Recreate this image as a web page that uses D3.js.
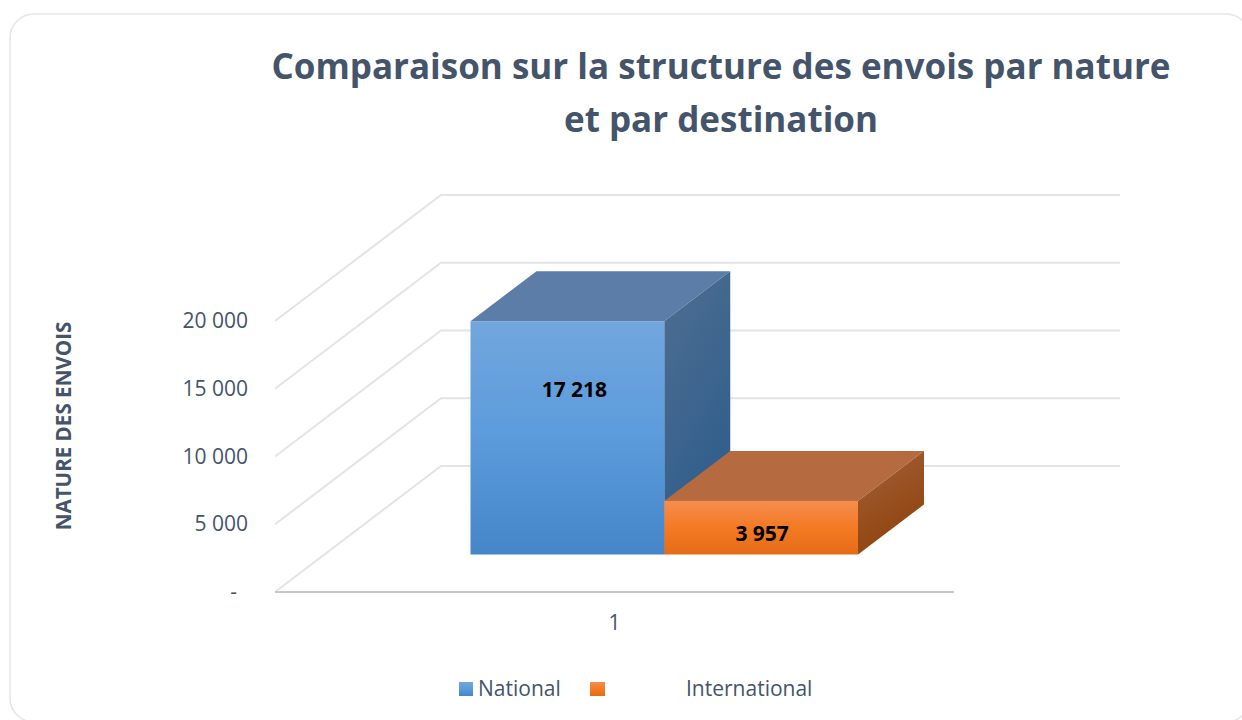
<!DOCTYPE html>
<html>
<head>
  <meta charset="utf-8">
  <title>Comparaison sur la structure des envois</title>
  <script src="https://d3js.org/d3.v7.min.js"></script>
  <style>
    html, body { margin: 0; padding: 0; background: #fff; overflow: hidden; }
    text { font-family: "Open Sans", sans-serif; fill: #44546a; }
  </style>
</head>
<body>
<svg width="1242" height="720"></svg>
<script>
  const seriesNames = ["National", "International"];
  const seriesValues = [17218, 3957];
  const valueLabels = ["17 218", "3 957"];
  const categories = ["1"];
  const yTicks = [0, 5000, 10000, 15000, 20000];
  const titleLines = ["Comparaison sur la structure des envois par nature", "et par destination"];
  const yTitle = "NATURE DES ENVOIS";

  const svg = d3.select("svg");

  // fake 3d: everything is drawn on the front plane, then shifted by depth
  const wall = { dx: 166, dy: -126 };
  const barOffset = { dx: 0, dy: -37.5 };
  const barDepth = { dx: 66, dy: -50 };

  const y = d3.scaleLinear().domain([0, 20000]).range([592, 321]);
  const xCat = d3.scaleBand().domain(categories).range([275, 954]);
  const xBar = d3.scaleBand().domain(seriesNames).range([470.5, 858]);

  const frontColors = [["#72a6dd", "#5b9bdc", "#4486c8"], ["#f68d50", "#f47a24", "#e56c17"]];
  const sideColors = [["#4f6e91", "#2e5d8c"], ["#a3603a", "#8f440d"]];
  const topColors = ["#5b7da8", "#b66a40"];

  const defs = svg.append("defs");
  seriesNames.forEach((s, i) => {
    const front = defs.append("linearGradient").attr("id", "front" + i)
            .attr("x1", 0).attr("y1", 0).attr("x2", 0).attr("y2", 1);
    frontColors[i].forEach((c, j) => front.append("stop").attr("offset", j / 2).attr("stop-color", c));
    const side = defs.append("linearGradient").attr("id", "side" + i)
            .attr("x1", 0).attr("y1", 0).attr("x2", 0.4).attr("y2", 1);
    sideColors[i].forEach((c, j) => side.append("stop").attr("offset", j).attr("stop-color", c));
  });

  // card
  svg.append("rect")
          .attr("x", 10).attr("y", 14).attr("width", 1240).attr("height", 708)
          .attr("rx", 24)
          .attr("fill", "#fff").attr("stroke", "#e3e6eb").attr("stroke-width", 1.5);

  // title
  svg.append("g").selectAll("text")
          .data(titleLines)
          .enter().append("text")
          .attr("x", 721)
          .attr("y", (d, i) => 79 + i * 53)
          .attr("text-anchor", "middle")
          .attr("font-size", 35)
          .attr("font-weight", 700)
          .text(d => d);

  // grid: diagonal on the side wall, then horizontal on the back wall
  const grid = svg.append("g");
  grid.selectAll("polyline")
          .data(yTicks)
          .enter().append("polyline")
          .attr("points", d => [
            [xCat.range()[0], y(d)],
            [xCat.range()[0] + wall.dx, y(d) + wall.dy],
            [1120, y(d) + wall.dy]
          ].join(" "))
          .attr("fill", "none")
          .attr("stroke", "#e2e4e8")
          .attr("stroke-width", 2);

  // floor front edge
  svg.append("line")
          .attr("x1", 275).attr("x2", 954)
          .attr("y1", y(0)).attr("y2", y(0))
          .attr("stroke", "#c6c9ce")
          .attr("stroke-width", 2);

  // bars
  const bars = svg.append("g").selectAll("g")
          .data(seriesNames.map((name, i) => ({ name, i, value: seriesValues[i], label: valueLabels[i] })))
          .enter().append("g");

  const x0 = d => xBar(d.name);
  const x1 = d => xBar(d.name) + xBar.bandwidth();
  const yTop = d => y(d.value) + barOffset.dy;
  const yBase = () => y(0) + barOffset.dy;

  bars.append("polygon") // top face
          .attr("points", d => [
            [x0(d), yTop(d)], [x1(d), yTop(d)],
            [x1(d) + barDepth.dx, yTop(d) + barDepth.dy], [x0(d) + barDepth.dx, yTop(d) + barDepth.dy]
          ].join(" "))
          .attr("fill", d => topColors[d.i]);

  bars.append("polygon") // side face
          .attr("points", d => [
            [x1(d), yTop(d)], [x1(d) + barDepth.dx, yTop(d) + barDepth.dy],
            [x1(d) + barDepth.dx, yBase() + barDepth.dy], [x1(d), yBase()]
          ].join(" "))
          .attr("fill", d => `url(#side${d.i})`);

  bars.append("rect") // front face
          .attr("x", x0)
          .attr("y", yTop)
          .attr("width", xBar.bandwidth())
          .attr("height", d => yBase() - yTop(d))
          .attr("fill", d => `url(#front${d.i})`);

  bars.append("text")
          .attr("x", d => (x0(d) + x1(d)) / 2 + (d.i === 0 ? 7 : 1))
          .attr("y", d => d.i === 0 ? 397 : 541)
          .attr("text-anchor", "middle")
          .attr("font-size", 21)
          .attr("font-weight", 700)
          .style("fill", "#000")
          .text(d => d.label);

  // axes
  const yAxis = d3.axisLeft(y)
          .tickValues(yTicks)
          .tickSize(0)
          .tickPadding(27)
          .tickFormat(d => d === 0 ? "-\u00a0\u00a0" : d3.format(",")(d).replace(/,/g, " "));
  const yG = svg.append("g").attr("transform", "translate(275,0)").call(yAxis);
  yG.select(".domain").remove();
  yG.selectAll("text").attr("font-size", 21).attr("font-family", null);

  const xAxis = d3.axisBottom(xCat).tickSize(0).tickPadding(23);
  const xG = svg.append("g").attr("transform", `translate(0,${y(0)})`).call(xAxis);
  xG.select(".domain").remove();
  xG.selectAll("text").attr("font-size", 21).attr("font-family", null);

  svg.append("text")
          .attr("transform", "translate(71,426) rotate(-90)")
          .attr("text-anchor", "middle")
          .attr("font-size", 20.6)
          .attr("font-weight", 700)
          .text(yTitle);

  // legend
  const legendSwatchX = [459, 590];
  const legendTextX = [478, 686];
  const legend = svg.append("g").selectAll("g")
          .data(seriesNames)
          .enter().append("g");
  legend.append("rect")
          .attr("x", (d, i) => legendSwatchX[i])
          .attr("y", 682)
          .attr("width", (d, i) => i === 0 ? 14 : 15)
          .attr("height", 14)
          .attr("fill", (d, i) => `url(#front${i})`);
  legend.append("text")
          .attr("x", (d, i) => legendTextX[i])
          .attr("y", 696)
          .attr("font-size", 21)
          .text(d => d);
</script>
</body>
</html>
